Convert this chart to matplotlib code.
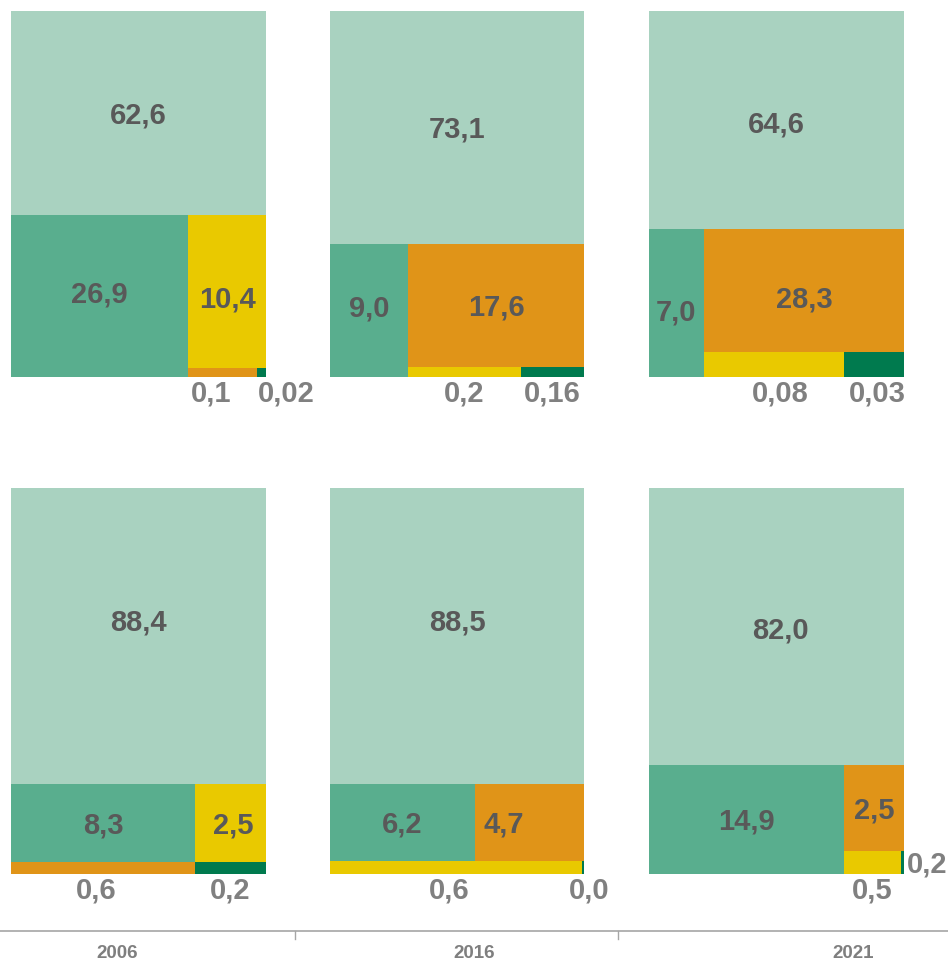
import matplotlib
matplotlib.use("Agg")
import matplotlib.pyplot as plt
from matplotlib.patches import Rectangle

# ---------------- data ----------------
years = ["2006", "2016", "2021"]
categories = ["cat0", "cat1", "cat2", "cat3", "cat4"]
cat_colors = ["#a9d2c0", "#59ae8e", "#e09418", "#e9c900", "#007a4e"]

# shown values (category order), upper row of treemaps
top_2006 = [62.6, 26.9, 0.1, 10.4, 0.02]
top_2016 = [73.1, 9.0, 17.6, 0.2, 0.16]
top_2021 = [64.6, 7.0, 28.3, 0.08, 0.03]
# lower row of treemaps
bot_2006 = [88.4, 8.3, 0.6, 2.5, 0.2]
bot_2016 = [88.5, 6.2, 4.7, 0.6, 0.0]
bot_2021 = [82.0, 14.9, 2.5, 0.5, 0.2]

# tile sizes (relative areas as drawn in the picture), category order
size_top_2006 = [522.8, 286.7, 6.2, 119.3, 0.8]
size_top_2016 = [591.8, 103.7, 216.5, 11.3, 6.3]
size_top_2021 = [555.9, 81.4, 246.0, 35.0, 15.0]
size_bot_2006 = [754.8, 143.5, 22.1, 55.4, 8.5]
size_bot_2016 = [751.8, 111.7, 83.9, 32.8, 0.3]
size_bot_2021 = [706.4, 212.6, 51.6, 13.1, 0.7]

values = [[top_2006, top_2016, top_2021], [bot_2006, bot_2016, bot_2021]]
sizes = [[size_top_2006, size_top_2016, size_top_2021],
         [size_bot_2006, size_bot_2016, size_bot_2021]]

# ---------------- layout ----------------
W, H = 948, 961
fig = plt.figure(figsize=(W / 100, H / 100), dpi=100)
ax = fig.add_axes([0, 0, 1, 1])
ax.set_xlim(0, W)
ax.set_ylim(H, 0)
ax.axis("off")

col_x = [(11, 266), (330, 584), (649, 904)]
row_y = [(10.5, 377), (488, 874)]

# nested slice structures (positions in layout order)
S_A = ("v", [0, ("h", [1, ("v", [2, ("h", [3, 4])])])])
S_B = ("v", [0, ("h", [1, 2]), ("h", [3, 4])])
structures = [[S_A, S_A, S_A], [S_B, S_B, S_A]]


def node_weight(node, w):
    if isinstance(node, int):
        return w[node]
    return sum(node_weight(c, w) for c in node[1])


def layout(node, w, x0, y0, x1, y1, out):
    if isinstance(node, int):
        out[node] = (x0, y0, x1, y1)
        return
    d, children = node
    tot = sum(node_weight(c, w) for c in children)
    pos = x0 if d == "h" else y0
    for c in children:
        frac = node_weight(c, w) / tot
        if d == "h":
            nxt = pos + frac * (x1 - x0)
            layout(c, w, pos, y0, nxt, y1, out)
        else:
            nxt = pos + frac * (y1 - y0)
            layout(c, w, x0, pos, x1, nxt, out)
        pos = nxt


def fmt(v):
    if round(v, 1) != v:
        s = f"{v:.2f}"
    else:
        s = f"{v:.1f}"
    return s.replace(".", ",")


FS = 21
CAP = 0.716 * FS / 0.72  # cap height in px
inside_color = "#595959"
outside_color = "#808080"
font = ["Liberation Sans", "DejaVu Sans"]

# label nudges (px) for labels as placed in the reference
inside_nudge = {(0, 0, 1): (0, -4), (0, 0, 2): (0, 5.5), (0, 1, 1): (0, -4.5),
                (0, 2, 0): (0, 2.5), (0, 2, 1): (0, 7), (0, 2, 2): (0, 6.5),
                (1, 0, 0): (0, -16), (1, 0, 2): (2.5, 0),
                (1, 1, 0): (0, -16), (1, 1, 2): (-26, 0),
                (1, 2, 0): (3.5, 1.5)}
outside_nudge = {(0, 0, 3): -11.5, (0, 0, 4): 24.5, (0, 2, 3): 6, (0, 2, 4): 3,
                 (1, 0, 3): -7, (1, 1, 3): -7, (1, 1, 4): 6}
right_side = {(1, 2, 4)}

for r in range(2):
    for c in range(3):
        vals = values[r][c]
        sz = sizes[r][c]
        rest = sorted([2, 3, 4], key=lambda k: -vals[k])
        order = [0, 1] + rest
        w = [sz[k] for k in order]
        rects = {}
        (x0, x1), (y0, y1) = col_x[c], row_y[r]
        layout(structures[r][c], w, x0, y0, x1, y1, rects)
        for p, k in enumerate(order):
            rx0, ry0, rx1, ry1 = rects[p]
            ax.add_patch(Rectangle((rx0, ry0), rx1 - rx0, ry1 - ry0,
                                   facecolor=cat_colors[k], edgecolor="none"))
            label = fmt(vals[k])
            cx, cy = (rx0 + rx1) / 2, (ry0 + ry1) / 2
            if p <= 2:
                dx, dy = inside_nudge.get((r, c, p), (0, 0))
                ax.text(cx + dx, cy + dy + CAP / 2, label, ha="center",
                        va="baseline", fontsize=FS, fontweight="bold",
                        color=inside_color, family=font)
            elif (r, c, p) in right_side:
                ax.text(rx1 + 3, cy + CAP / 2, label, ha="left", va="baseline",
                        fontsize=FS, fontweight="bold", color=outside_color,
                        family=font)
            else:
                dx = outside_nudge.get((r, c, p), 0)
                ax.text(cx + dx, y1 + 14.5 + CAP / 2, label, ha="center",
                        va="baseline", fontsize=FS, fontweight="bold",
                        color=outside_color, family=font)

# bottom category axis
axis_y = 930.5
ax.plot([0, W], [axis_y, axis_y], color="#a6a6a6", lw=1.2, solid_capstyle="butt")
for tx in [295, 618]:
    ax.plot([tx, tx], [axis_y, axis_y + 8], color="#a6a6a6", lw=1)
year_x = [117, 474, 853]
for yx, yr in zip(year_x, years):
    ax.text(yx, 953, yr, ha="center", va="center", fontsize=13.5,
            fontweight="bold", color="#7f7f7f", family=font)

fig.savefig("out.png", dpi=100)
